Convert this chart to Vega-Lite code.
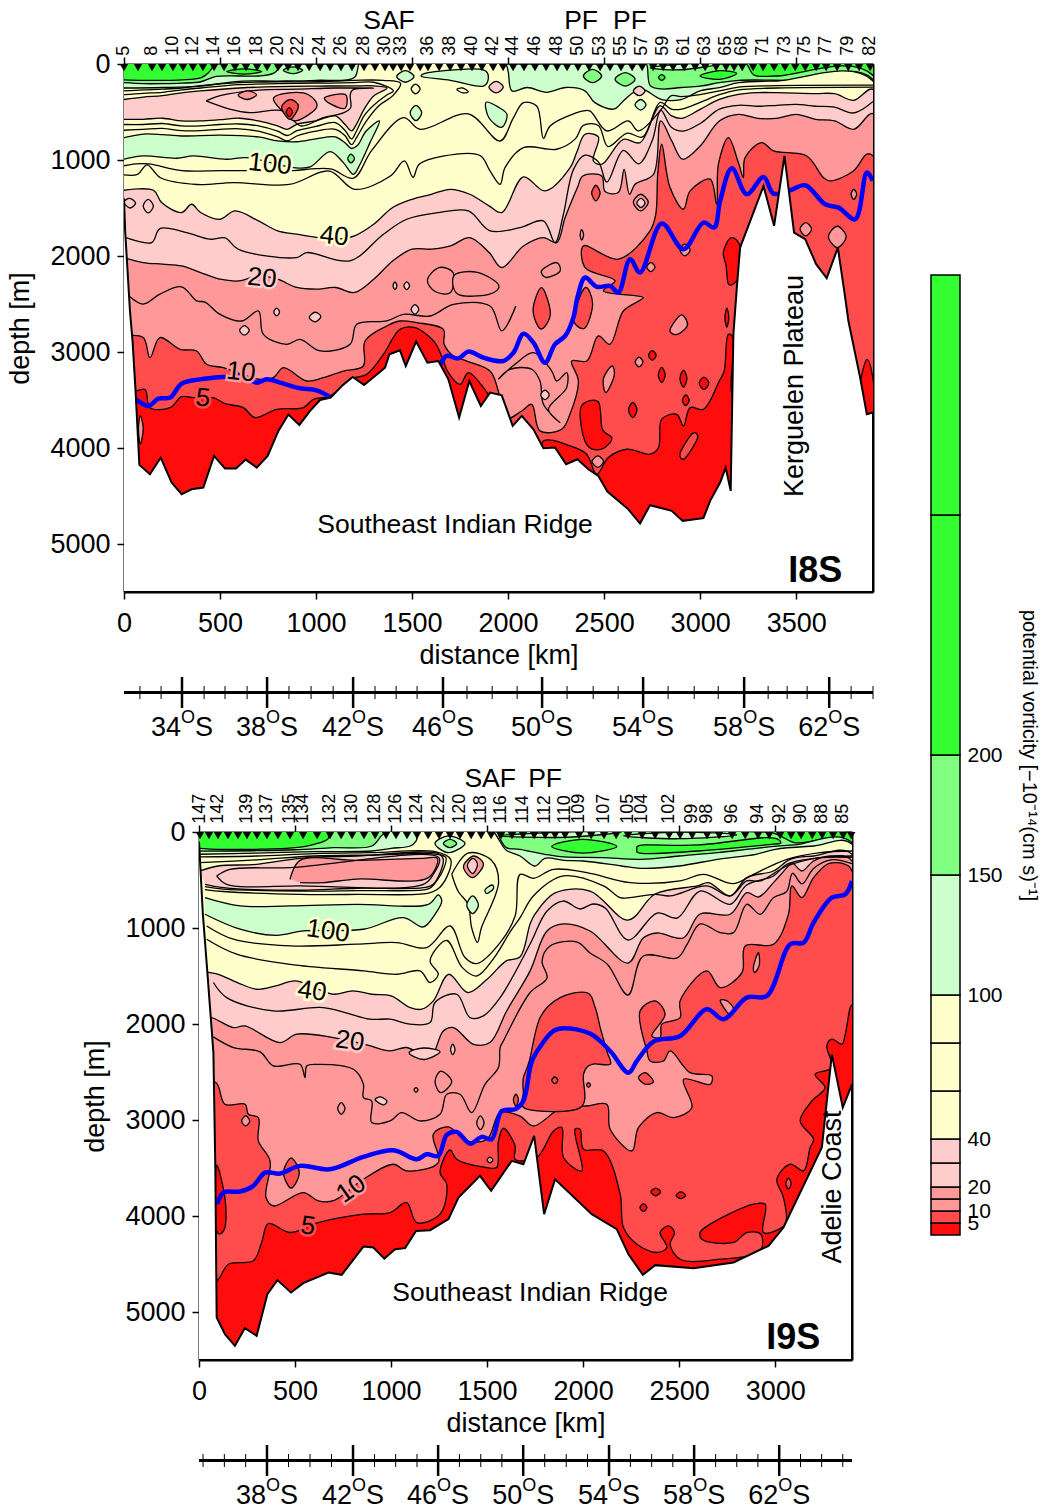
{"$schema":"https://vega.github.io/schema/vega-lite/v6.json","padding":{"left":6,"top":7,"right":0,"bottom":0},"background":"white","bounds":"flush","spacing":0,
"config":{"view":{"stroke":null},"font":"Liberation Sans","text":{"font":"Liberation Sans"},"axis":{"grid":false,"labelFontSize":27,"titleFontSize":27,"labelFlush":false,"labelOverlap":false,"labelColor":"black","titleColor":"black","tickColor":"black","domainColor":"black","tickWidth":1.5,"domainWidth":2,"labelFont":"Liberation Sans","titleFont":"Liberation Sans","titleFontWeight":"normal","zindex":1}},
"datasets":{
"m1":[{"i":"h0","x":0,"z":0},{"i":"h0","x":3900,"z":0},{"i":"h0","x":3900,"z":5500},{"i":"h0","x":0,"z":5500},
{"i":"g1","x":0,"z":165},{"i":"g1","x":100,"z":170},{"i":"g1","x":200,"z":170},{"i":"g1","x":300,"z":165},{"i":"g1","x":400,"z":145},{"i":"g1","x":440,"z":90},{"i":"g1","x":470,"z":15},{"i":"g1","x":490,"z":0},{"i":"g1","x":3200,"z":0},{"i":"g1","x":3240,"z":0},{"i":"g1","x":3280,"z":115},{"i":"g1","x":3400,"z":125},{"i":"g1","x":3900,"z":120},{"i":"g1","x":3900,"z":5500},{"i":"g1","x":0,"z":5500},
{"i":"f1","x":0,"z":195},{"i":"f1","x":100,"z":205},{"i":"f1","x":200,"z":205},{"i":"f1","x":300,"z":200},{"i":"f1","x":400,"z":185},{"i":"f1","x":480,"z":130},{"i":"f1","x":600,"z":125},{"i":"f1","x":700,"z":125},{"i":"f1","x":780,"z":95},{"i":"f1","x":830,"z":0},{"i":"f1","x":850,"z":0},{"i":"f1","x":2700,"z":0},{"i":"f1","x":2720,"z":0},{"i":"f1","x":2740,"z":225},{"i":"f1","x":2800,"z":260},{"i":"f1","x":2900,"z":245},{"i":"f1","x":3000,"z":230},{"i":"f1","x":3100,"z":195},{"i":"f1","x":3200,"z":170},{"i":"f1","x":3500,"z":170},{"i":"f1","x":3900,"z":160},{"i":"f1","x":3900,"z":5500},{"i":"f1","x":0,"z":5500},
{"i":"e1","x":0,"z":250},{"i":"e1","x":200,"z":245},{"i":"e1","x":400,"z":230},{"i":"e1","x":600,"z":180},{"i":"e1","x":800,"z":178},{"i":"e1","x":1000,"z":170},{"i":"e1","x":1200,"z":140},{"i":"e1","x":1225,"z":0},{"i":"e1","x":1250,"z":0},{"i":"e1","x":1985,"z":0},{"i":"e1","x":2000,"z":75},{"i":"e1","x":2020,"z":280},{"i":"e1","x":2100,"z":245},{"i":"e1","x":2200,"z":295},{"i":"e1","x":2300,"z":245},{"i":"e1","x":2400,"z":280},{"i":"e1","x":2450,"z":400},{"i":"e1","x":2550,"z":470},{"i":"e1","x":2600,"z":385},{"i":"e1","x":2650,"z":300},{"i":"e1","x":2700,"z":265},{"i":"e1","x":2800,"z":370},{"i":"e1","x":2900,"z":370},{"i":"e1","x":3000,"z":280},{"i":"e1","x":3100,"z":245},{"i":"e1","x":3200,"z":195},{"i":"e1","x":3400,"z":177},{"i":"e1","x":3900,"z":177},{"i":"e1","x":3900,"z":5500},{"i":"e1","x":0,"z":5500},
{"i":"d1","x":0,"z":1315},{"i":"d1","x":153,"z":1315},{"i":"d1","x":196,"z":1443},{"i":"d1","x":300,"z":1547},{"i":"d1","x":352,"z":1461},{"i":"d1","x":399,"z":1547},{"i":"d1","x":500,"z":1617},{"i":"d1","x":578,"z":1530},{"i":"d1","x":700,"z":1634},{"i":"d1","x":800,"z":1738},{"i":"d1","x":899,"z":1773},{"i":"d1","x":1101,"z":1825},{"i":"d1","x":1200,"z":1790},{"i":"d1","x":1300,"z":1669},{"i":"d1","x":1399,"z":1495},{"i":"d1","x":1500,"z":1409},{"i":"d1","x":1600,"z":1357},{"i":"d1","x":1700,"z":1305},{"i":"d1","x":1800,"z":1357},{"i":"d1","x":1901,"z":1478},{"i":"d1","x":1967,"z":1548},{"i":"d1","x":2080,"z":1176},{"i":"d1","x":2192,"z":1322},{"i":"d1","x":2323,"z":1079},{"i":"d1","x":2357,"z":923},{"i":"d1","x":2401,"z":732},{"i":"d1","x":2470,"z":760},{"i":"d1","x":2444,"z":1010},{"i":"d1","x":2488,"z":1044},{"i":"d1","x":2600,"z":784},{"i":"d1","x":2687,"z":819},{"i":"d1","x":2791,"z":437},{"i":"d1","x":2852,"z":541},{"i":"d1","x":2904,"z":566},{"i":"d1","x":3000,"z":472},{"i":"d1","x":3100,"z":368},{"i":"d1","x":3199,"z":316},{"i":"d1","x":3300,"z":298},{"i":"d1","x":3399,"z":298},{"i":"d1","x":3600,"z":309},{"i":"d1","x":3700,"z":309},{"i":"d1","x":3800,"z":378},{"i":"d1","x":3900,"z":264},{"i":"d1","x":3900,"z":5500},{"i":"d1","x":0,"z":5500},
{"i":"c1","x":0,"z":2020},{"i":"c1","x":100,"z":2068},{"i":"c1","x":200,"z":2085},{"i":"c1","x":300,"z":2103},{"i":"c1","x":399,"z":2172},{"i":"c1","x":500,"z":2242},{"i":"c1","x":600,"z":2259},{"i":"c1","x":700,"z":2207},{"i":"c1","x":800,"z":2242},{"i":"c1","x":899,"z":2328},{"i":"c1","x":1000,"z":2346},{"i":"c1","x":1101,"z":2328},{"i":"c1","x":1200,"z":2380},{"i":"c1","x":1300,"z":2242},{"i":"c1","x":1399,"z":2051},{"i":"c1","x":1500,"z":1929},{"i":"c1","x":1600,"z":1929},{"i":"c1","x":1700,"z":1895},{"i":"c1","x":1800,"z":1808},{"i":"c1","x":1901,"z":1964},{"i":"c1","x":1967,"z":2120},{"i":"c1","x":2080,"z":1895},{"i":"c1","x":2184,"z":1808},{"i":"c1","x":2253,"z":1860},{"i":"c1","x":2297,"z":1600},{"i":"c1","x":2361,"z":1287},{"i":"c1","x":2389,"z":1166},{"i":"c1","x":2487,"z":1166},{"i":"c1","x":2505,"z":1329},{"i":"c1","x":2574,"z":1339},{"i":"c1","x":2604,"z":1097},{"i":"c1","x":2632,"z":1357},{"i":"c1","x":2661,"z":1253},{"i":"c1","x":2757,"z":1149},{"i":"c1","x":2795,"z":593},{"i":"c1","x":2852,"z":801},{"i":"c1","x":2909,"z":992},{"i":"c1","x":3000,"z":854},{"i":"c1","x":3100,"z":593},{"i":"c1","x":3199,"z":524},{"i":"c1","x":3300,"z":566},{"i":"c1","x":3399,"z":566},{"i":"c1","x":3500,"z":524},{"i":"c1","x":3600,"z":576},{"i":"c1","x":3700,"z":593},{"i":"c1","x":3800,"z":680},{"i":"c1","x":3900,"z":517},{"i":"c1","x":3900,"z":5500},{"i":"c1","x":0,"z":5500},
{"i":"b1","x":0,"z":2833},{"i":"b1","x":100,"z":2850},{"i":"b1","x":135,"z":3059},{"i":"b1","x":187,"z":2850},{"i":"b1","x":292,"z":2972},{"i":"b1","x":378,"z":2990},{"i":"b1","x":430,"z":3128},{"i":"b1","x":517,"z":3163},{"i":"b1","x":700,"z":3284},{"i":"b1","x":778,"z":3267},{"i":"b1","x":830,"z":3163},{"i":"b1","x":951,"z":3302},{"i":"b1","x":1038,"z":3267},{"i":"b1","x":1142,"z":3198},{"i":"b1","x":1246,"z":3146},{"i":"b1","x":1255,"z":2885},{"i":"b1","x":1368,"z":2729},{"i":"b1","x":1437,"z":2677},{"i":"b1","x":1524,"z":2694},{"i":"b1","x":1663,"z":2764},{"i":"b1","x":1667,"z":2920},{"i":"b1","x":1715,"z":3041},{"i":"b1","x":1785,"z":3094},{"i":"b1","x":1906,"z":3198},{"i":"b1","x":1949,"z":3406},{"i":"b1","x":1984,"z":3700},{"i":"b1","x":2071,"z":3615},{"i":"b1","x":2123,"z":3545},{"i":"b1","x":2166,"z":3822},{"i":"b1","x":2279,"z":3805},{"i":"b1","x":2322,"z":3649},{"i":"b1","x":2366,"z":3302},{"i":"b1","x":2331,"z":3094},{"i":"b1","x":2410,"z":3094},{"i":"b1","x":2470,"z":2833},{"i":"b1","x":2530,"z":2920},{"i":"b1","x":2600,"z":2573},{"i":"b1","x":2680,"z":2469},{"i":"b1","x":2704,"z":2432},{"i":"b1","x":2496,"z":2363},{"i":"b1","x":2557,"z":2259},{"i":"b1","x":2401,"z":2120},{"i":"b1","x":2392,"z":1895},{"i":"b1","x":2574,"z":2033},{"i":"b1","x":2739,"z":1739},{"i":"b1","x":2769,"z":1565},{"i":"b1","x":2779,"z":1149},{"i":"b1","x":2800,"z":836},{"i":"b1","x":2843,"z":1287},{"i":"b1","x":2913,"z":1513},{"i":"b1","x":2948,"z":1322},{"i":"b1","x":3052,"z":1200},{"i":"b1","x":3086,"z":1461},{"i":"b1","x":3095,"z":1044},{"i":"b1","x":3147,"z":767},{"i":"b1","x":3199,"z":1027},{"i":"b1","x":3225,"z":1183},{"i":"b1","x":3234,"z":975},{"i":"b1","x":3320,"z":819},{"i":"b1","x":3382,"z":905},{"i":"b1","x":3555,"z":958},{"i":"b1","x":3642,"z":1183},{"i":"b1","x":3677,"z":1218},{"i":"b1","x":3798,"z":1114},{"i":"b1","x":3868,"z":940},{"i":"b1","x":3900,"z":958},{"i":"b1","x":3900,"z":5500},{"i":"b1","x":0,"z":5500},
{"i":"a1","x":0,"z":3406},{"i":"a1","x":62,"z":3406},{"i":"a1","x":110,"z":3390},{"i":"a1","x":135,"z":3580},{"i":"a1","x":240,"z":3579},{"i":"a1","x":300,"z":3465},{"i":"a1","x":361,"z":3475},{"i":"a1","x":465,"z":3475},{"i":"a1","x":526,"z":3538},{"i":"a1","x":621,"z":3579},{"i":"a1","x":682,"z":3683},{"i":"a1","x":795,"z":3597},{"i":"a1","x":934,"z":3579},{"i":"a1","x":986,"z":3493},{"i":"a1","x":1073,"z":3458},{"i":"a1","x":1177,"z":3284},{"i":"a1","x":1264,"z":3232},{"i":"a1","x":1351,"z":3024},{"i":"a1","x":1437,"z":2764},{"i":"a1","x":1515,"z":2747},{"i":"a1","x":1619,"z":2902},{"i":"a1","x":1654,"z":3042},{"i":"a1","x":1689,"z":3215},{"i":"a1","x":1750,"z":3337},{"i":"a1","x":1793,"z":3215},{"i":"a1","x":1897,"z":3440},{"i":"a1","x":1950,"z":3600},{"i":"a1","x":2100,"z":4200},{"i":"a1","x":2160,"z":4200},{"i":"a1","x":2184,"z":3926},{"i":"a1","x":2322,"z":3978},{"i":"a1","x":2409,"z":4065},{"i":"a1","x":2461,"z":4273},{"i":"a1","x":2522,"z":4100},{"i":"a1","x":2618,"z":4013},{"i":"a1","x":2739,"z":4065},{"i":"a1","x":2783,"z":3996},{"i":"a1","x":2800,"z":3700},{"i":"a1","x":2878,"z":3649},{"i":"a1","x":2913,"z":3770},{"i":"a1","x":2948,"z":3579},{"i":"a1","x":3017,"z":3597},{"i":"a1","x":3100,"z":3300},{"i":"a1","x":3125,"z":3198},{"i":"a1","x":3147,"z":2816},{"i":"a1","x":3173,"z":2850},{"i":"a1","x":3180,"z":3500},{"i":"a1","x":3400,"z":3500},{"i":"a1","x":3800,"z":3500},{"i":"a1","x":3833,"z":3302},{"i":"a1","x":3868,"z":3076},{"i":"a1","x":3900,"z":3284},{"i":"a1","x":3900,"z":5500},{"i":"a1","x":0,"z":5500},
{"i":"d2","x":0,"z":370},{"i":"d2","x":100,"z":345},{"i":"d2","x":200,"z":330},{"i":"d2","x":300,"z":300},{"i":"d2","x":400,"z":280},{"i":"d2","x":600,"z":250},{"i":"d2","x":800,"z":235},{"i":"d2","x":1000,"z":230},{"i":"d2","x":1200,"z":228},{"i":"d2","x":1300,"z":228},{"i":"d2","x":1370,"z":250},{"i":"d2","x":1300,"z":333},{"i":"d2","x":1250,"z":472},{"i":"d2","x":1210,"z":628},{"i":"d2","x":1185,"z":697},{"i":"d2","x":1150,"z":628},{"i":"d2","x":1100,"z":541},{"i":"d2","x":1000,"z":593},{"i":"d2","x":900,"z":628},{"i":"d2","x":850,"z":680},{"i":"d2","x":800,"z":645},{"i":"d2","x":700,"z":593},{"i":"d2","x":600,"z":565},{"i":"d2","x":500,"z":580},{"i":"d2","x":400,"z":593},{"i":"d2","x":300,"z":593},{"i":"d2","x":200,"z":565},{"i":"d2","x":100,"z":576},{"i":"d2","x":0,"z":576},
{"i":"f2","x":0,"z":767},{"i":"f2","x":100,"z":730},{"i":"f2","x":200,"z":735},{"i":"f2","x":300,"z":750},{"i":"f2","x":500,"z":740},{"i":"f2","x":700,"z":760},{"i":"f2","x":800,"z":800},{"i":"f2","x":900,"z":810},{"i":"f2","x":1000,"z":780},{"i":"f2","x":1100,"z":760},{"i":"f2","x":1150,"z":820},{"i":"f2","x":1185,"z":880},{"i":"f2","x":1215,"z":850},{"i":"f2","x":1260,"z":700},{"i":"f2","x":1330,"z":593},{"i":"f2","x":1281,"z":819},{"i":"f2","x":1229,"z":1044},{"i":"f2","x":1195,"z":1149},{"i":"f2","x":1142,"z":1027},{"i":"f2","x":1073,"z":912},{"i":"f2","x":969,"z":1072},{"i":"f2","x":882,"z":1079},{"i":"f2","x":639,"z":975},{"i":"f2","x":535,"z":992},{"i":"f2","x":361,"z":958},{"i":"f2","x":274,"z":982},{"i":"f2","x":100,"z":958},{"i":"f2","x":0,"z":992},
{"i":"n1","x":427,"z":385},{"i":"n1","x":550,"z":470},{"i":"n1","x":655,"z":507},{"i":"n1","x":830,"z":490},{"i":"n1","x":920,"z":645},{"i":"n1","x":1038,"z":559},{"i":"n1","x":1142,"z":510},{"i":"n1","x":1180,"z":455},{"i":"n1","x":1178,"z":320},{"i":"n1","x":1190,"z":270},{"i":"n1","x":1300,"z":250},{"i":"n1","x":1100,"z":250},{"i":"n1","x":900,"z":262},{"i":"n1","x":700,"z":272},{"i":"n1","x":500,"z":330},{"i":"n1","x":427,"z":385},
{"i":"n2","x":0,"z":320},{"i":"n2","x":100,"z":305},{"i":"n2","x":200,"z":295},{"i":"n2","x":300,"z":270},{"i":"n2","x":400,"z":250},{"i":"n2","x":600,"z":215},{"i":"n2","x":800,"z":205},{"i":"n2","x":1000,"z":200},{"i":"n2","x":1200,"z":195},{"i":"n2","x":1300,"z":190},{"i":"n2","x":1403,"z":281},{"i":"n2","x":1370,"z":320},{"i":"n2","x":1300,"z":430},{"i":"n2","x":1250,"z":540},{"i":"n2","x":1210,"z":700},{"i":"n2","x":1185,"z":780},{"i":"n2","x":1150,"z":690},{"i":"n2","x":1100,"z":610},{"i":"n2","x":1000,"z":650},{"i":"n2","x":900,"z":695},{"i":"n2","x":850,"z":745},{"i":"n2","x":800,"z":700},{"i":"n2","x":700,"z":645},{"i":"n2","x":600,"z":625},{"i":"n2","x":500,"z":630},{"i":"n2","x":400,"z":645},{"i":"n2","x":300,"z":645},{"i":"n2","x":200,"z":620},{"i":"n2","x":100,"z":630},{"i":"n2","x":0,"z":630},
{"i":"n3","x":0,"z":280},{"i":"n3","x":100,"z":270},{"i":"n3","x":200,"z":262},{"i":"n3","x":300,"z":250},{"i":"n3","x":400,"z":225},{"i":"n3","x":600,"z":195},{"i":"n3","x":800,"z":185},{"i":"n3","x":1000,"z":185},{"i":"n3","x":1200,"z":170},{"i":"n3","x":1350,"z":170},{"i":"n3","x":1440,"z":200},{"i":"n3","x":1400,"z":330},{"i":"n3","x":1330,"z":430},{"i":"n3","x":1260,"z":600},{"i":"n3","x":1210,"z":770},{"i":"n3","x":1185,"z":840},{"i":"n3","x":1150,"z":745},{"i":"n3","x":1100,"z":680},{"i":"n3","x":1000,"z":700},{"i":"n3","x":900,"z":750},{"i":"n3","x":850,"z":800},{"i":"n3","x":800,"z":760},{"i":"n3","x":700,"z":700},{"i":"n3","x":600,"z":675},{"i":"n3","x":500,"z":680},{"i":"n3","x":400,"z":695},{"i":"n3","x":300,"z":695},{"i":"n3","x":200,"z":670},{"i":"n3","x":100,"z":680},{"i":"n3","x":0,"z":690},
{"i":"n4","x":0,"z":1060},{"i":"n4","x":60,"z":1040},{"i":"n4","x":130,"z":1040},{"i":"n4","x":300,"z":1110},{"i":"n4","x":500,"z":1110},{"i":"n4","x":650,"z":1110},{"i":"n4","x":880,"z":1110},{"i":"n4","x":1000,"z":1090},{"i":"n4","x":1082,"z":1096},{"i":"n4","x":1195,"z":1190},{"i":"n4","x":1290,"z":900},{"i":"n4","x":1455,"z":558},{"i":"n4","x":1542,"z":680},{"i":"n4","x":1793,"z":520},{"i":"n4","x":1958,"z":802},{"i":"n4","x":2028,"z":559},{"i":"n4","x":2080,"z":403},{"i":"n4","x":2149,"z":437},{"i":"n4","x":2184,"z":774},{"i":"n4","x":2219,"z":645},{"i":"n4","x":2392,"z":489},{"i":"n4","x":2427,"z":490},{"i":"n4","x":2514,"z":697},{"i":"n4","x":2626,"z":593},{"i":"n4","x":2678,"z":697},{"i":"n4","x":2791,"z":490},{"i":"n4","x":2850,"z":330},{"i":"n4","x":2900,"z":340},{"i":"n4","x":3000,"z":320},{"i":"n4","x":3100,"z":280},{"i":"n4","x":3200,"z":240},{"i":"n4","x":3400,"z":225},{"i":"n4","x":3900,"z":220},
{"i":"n5","x":0,"z":1155},{"i":"n5","x":70,"z":1150},{"i":"n5","x":120,"z":1050},{"i":"n5","x":190,"z":1185},{"i":"n5","x":380,"z":1255},{"i":"n5","x":570,"z":1235},{"i":"n5","x":860,"z":1255},{"i":"n5","x":1070,"z":1115},{"i":"n5","x":1200,"z":1305},{"i":"n5","x":1385,"z":1170},{"i":"n5","x":1460,"z":1010},{"i":"n5","x":1505,"z":1180},{"i":"n5","x":1540,"z":1040},{"i":"n5","x":1790,"z":930},{"i":"n5","x":1860,"z":960},{"i":"n5","x":1906,"z":1114},{"i":"n5","x":1958,"z":1253},{"i":"n5","x":1984,"z":1079},{"i":"n5","x":2080,"z":871},{"i":"n5","x":2253,"z":888},{"i":"n5","x":2350,"z":780},{"i":"n5","x":2392,"z":640},{"i":"n5","x":2470,"z":640},{"i":"n5","x":2520,"z":860},{"i":"n5","x":2620,"z":720},{"i":"n5","x":2700,"z":760},{"i":"n5","x":2791,"z":400},{"i":"n5","x":2850,"z":470},{"i":"n5","x":2904,"z":470},{"i":"n5","x":3000,"z":400},{"i":"n5","x":3100,"z":320},{"i":"n5","x":3200,"z":270},{"i":"n5","x":3400,"z":250},{"i":"n5","x":3900,"z":240},
{"i":"n7","x":0,"z":1800},{"i":"n7","x":144,"z":1860},{"i":"n7","x":187,"z":1714},{"i":"n7","x":326,"z":1757},{"i":"n7","x":448,"z":1825},{"i":"n7","x":527,"z":1811},{"i":"n7","x":595,"z":1930},{"i":"n7","x":899,"z":2016},{"i":"n7","x":951,"z":1964},{"i":"n7","x":1177,"z":2050},{"i":"n7","x":1351,"z":1773},{"i":"n7","x":1472,"z":1617},{"i":"n7","x":1637,"z":1548},{"i":"n7","x":1793,"z":1530},{"i":"n7","x":1906,"z":1738},{"i":"n7","x":2062,"z":1704},{"i":"n7","x":2184,"z":1634},{"i":"n7","x":2244,"z":1860},{"i":"n7","x":2288,"z":1565},{"i":"n7","x":2340,"z":1100},{"i":"n7","x":2400,"z":950},{"i":"n7","x":2470,"z":1020},{"i":"n7","x":2514,"z":1230},{"i":"n7","x":2600,"z":900},{"i":"n7","x":2680,"z":1040},{"i":"n7","x":2750,"z":800},{"i":"n7","x":2795,"z":480},{"i":"n7","x":2850,"z":660},{"i":"n7","x":2910,"z":700},{"i":"n7","x":3000,"z":620},{"i":"n7","x":3100,"z":470},{"i":"n7","x":3200,"z":430},{"i":"n7","x":3300,"z":440},{"i":"n7","x":3400,"z":430},{"i":"n7","x":3500,"z":420},{"i":"n7","x":3600,"z":440},{"i":"n7","x":3700,"z":450},{"i":"n7","x":3800,"z":510},{"i":"n7","x":3900,"z":390},
{"i":"n8","x":31,"z":2425},{"i":"n8","x":100,"z":2501},{"i":"n8","x":187,"z":2398},{"i":"n8","x":300,"z":2321},{"i":"n8","x":378,"z":2467},{"i":"n8","x":422,"z":2480},{"i":"n8","x":500,"z":2608},{"i":"n8","x":613,"z":2677},{"i":"n8","x":700,"z":2573},{"i":"n8","x":726,"z":2816},{"i":"n8","x":847,"z":2920},{"i":"n8","x":917,"z":2868},{"i":"n8","x":1021,"z":2989},{"i":"n8","x":1177,"z":2920},{"i":"n8","x":1212,"z":2712},{"i":"n8","x":1368,"z":2677},{"i":"n8","x":1455,"z":2608},{"i":"n8","x":1594,"z":2625},{"i":"n8","x":1715,"z":2504},{"i":"n8","x":1906,"z":2521},{"i":"n8","x":1967,"z":2780},{"i":"n8","x":2040,"z":2520},
{"i":"n9","x":1949,"z":3284},{"i":"n9","x":2010,"z":3180},{"i":"n9","x":2123,"z":3180},{"i":"n9","x":2166,"z":3302},{"i":"n9","x":2184,"z":3545},{"i":"n9","x":2270,"z":3735},{"i":"n9","x":2210,"z":3597},{"i":"n9","x":2305,"z":3371},{"i":"n9","x":2305,"z":3215},{"i":"n9","x":2253,"z":3302},{"i":"n9","x":2227,"z":3198},{"i":"n9","x":2132,"z":3007},{"i":"n9","x":2036,"z":3128},{"i":"n9","x":1949,"z":3284}],
"s1":[{"i":"h1","x":535,"z":78},{"i":"h1","x":626,"z":50},{"i":"h1","x":717,"z":78},{"i":"h1","x":626,"z":105},
{"i":"g2","x":830,"z":65},{"i":"g2","x":880,"z":30},{"i":"g2","x":930,"z":65},{"i":"g2","x":880,"z":100},
{"i":"f3","x":1420,"z":130},{"i":"f3","x":1465,"z":70},{"i":"f3","x":1510,"z":130},{"i":"f3","x":1465,"z":190},
{"i":"f4","x":1550,"z":130},{"i":"f4","x":1620,"z":80},{"i":"f4","x":1871,"z":60},{"i":"f4","x":1871,"z":230},{"i":"f4","x":1700,"z":170},
{"i":"e2","x":1495,"z":260},{"i":"e2","x":1518,"z":210},{"i":"e2","x":1542,"z":260},{"i":"e2","x":1518,"z":310},
{"i":"f5","x":1490,"z":510},{"i":"f5","x":1520,"z":430},{"i":"f5","x":1550,"z":510},{"i":"f5","x":1520,"z":590},
{"i":"e3","x":1733,"z":265},{"i":"e3","x":1763,"z":250},{"i":"e3","x":1793,"z":290},{"i":"e3","x":1763,"z":300},
{"i":"f6","x":1885,"z":400},{"i":"f6","x":1950,"z":450},{"i":"f6","x":1995,"z":530},{"i":"f6","x":1965,"z":660},{"i":"f6","x":1900,"z":560},
{"i":"d3","x":1900,"z":240},{"i":"d3","x":1938,"z":180},{"i":"d3","x":1975,"z":240},{"i":"d3","x":1938,"z":300},
{"i":"g3","x":1165,"z":985},{"i":"g3","x":1182,"z":940},{"i":"g3","x":1200,"z":985},{"i":"g3","x":1182,"z":1030},
{"i":"d4","x":0,"z":1440},{"i":"d4","x":30,"z":1400},{"i":"d4","x":60,"z":1450},{"i":"d4","x":30,"z":1500},
{"i":"d5","x":100,"z":1480},{"i":"d5","x":126,"z":1410},{"i":"d5","x":153,"z":1480},{"i":"d5","x":126,"z":1550},
{"i":"c2","x":595,"z":325},{"i":"c2","x":642,"z":280},{"i":"c2","x":690,"z":320},{"i":"c2","x":642,"z":370},
{"i":"c3","x":778,"z":360},{"i":"c3","x":860,"z":300},{"i":"c3","x":960,"z":320},{"i":"c3","x":1003,"z":450},{"i":"c3","x":900,"z":590},{"i":"c3","x":840,"z":520},
{"i":"c4","x":1046,"z":350},{"i":"c4","x":1151,"z":316},{"i":"c4","x":1151,"z":460},{"i":"c4","x":1080,"z":420},
{"i":"b2","x":821,"z":450},{"i":"b2","x":865,"z":370},{"i":"b2","x":908,"z":440},{"i":"b2","x":865,"z":576},
{"i":"a2","x":844,"z":500},{"i":"a2","x":860,"z":455},{"i":"a2","x":877,"z":500},{"i":"a2","x":860,"z":550},
{"i":"d6","x":1401,"z":2310},{"i":"d6","x":1411,"z":2270},{"i":"d6","x":1421,"z":2310},{"i":"d6","x":1411,"z":2350},
{"i":"d7","x":1457,"z":2310},{"i":"d7","x":1472,"z":2270},{"i":"d7","x":1487,"z":2310},{"i":"d7","x":1472,"z":2350},
{"i":"c5","x":1580,"z":2250},{"i":"c5","x":1640,"z":2120},{"i":"c5","x":1715,"z":2180},{"i":"c5","x":1700,"z":2380},{"i":"c5","x":1620,"z":2370},
{"i":"c6","x":1720,"z":2200},{"i":"c6","x":1840,"z":2170},{"i":"c6","x":1950,"z":2300},{"i":"c6","x":1900,"z":2400},{"i":"c6","x":1740,"z":2400},
{"i":"d8","x":602,"z":2775},{"i":"d8","x":627,"z":2725},{"i":"d8","x":652,"z":2775},{"i":"d8","x":627,"z":2825},
{"i":"d9","x":780,"z":2583},{"i":"d9","x":795,"z":2543},{"i":"d9","x":810,"z":2583},{"i":"d9","x":795,"z":2623},
{"i":"d10","x":965,"z":2640},{"i":"d10","x":995,"z":2586},{"i":"d10","x":1025,"z":2630},{"i":"d10","x":995,"z":2686},
{"i":"d11","x":1495,"z":2556},{"i":"d11","x":1515,"z":2506},{"i":"d11","x":1535,"z":2556},{"i":"d11","x":1515,"z":2606},
{"i":"c7","x":75,"z":3800},{"i":"c7","x":85,"z":3666},{"i":"c7","x":100,"z":3800},{"i":"c7","x":85,"z":3960},
{"i":"g4","x":2392,"z":125},{"i":"g4","x":2440,"z":55},{"i":"g4","x":2487,"z":125},{"i":"g4","x":2440,"z":195},
{"i":"g5","x":2557,"z":160},{"i":"g5","x":2610,"z":90},{"i":"g5","x":2661,"z":160},{"i":"g5","x":2610,"z":230},
{"i":"h2","x":2783,"z":140},{"i":"h2","x":2800,"z":110},{"i":"h2","x":2817,"z":140},{"i":"h2","x":2800,"z":170},
{"i":"d12","x":2652,"z":280},{"i":"d12","x":2683,"z":230},{"i":"d12","x":2713,"z":280},{"i":"d12","x":2683,"z":330},
{"i":"f7","x":2661,"z":425},{"i":"f7","x":2690,"z":370},{"i":"f7","x":2718,"z":425},{"i":"f7","x":2690,"z":480},
{"i":"h3","x":3000,"z":125},{"i":"h3","x":3100,"z":70},{"i":"h3","x":3190,"z":100},{"i":"h3","x":3100,"z":160},
{"i":"f8","x":2740,"z":40},{"i":"f8","x":2900,"z":0},{"i":"f8","x":3100,"z":0},{"i":"f8","x":2900,"z":60},
{"i":"b3","x":2435,"z":1345},{"i":"b3","x":2457,"z":1263},{"i":"b3","x":2479,"z":1345},{"i":"b3","x":2457,"z":1426},
{"i":"c8","x":2652,"z":1440},{"i":"c8","x":2690,"z":1357},{"i":"c8","x":2730,"z":1440},{"i":"c8","x":2690,"z":1530},
{"i":"d13","x":2670,"z":1447},{"i":"d13","x":2692,"z":1400},{"i":"d13","x":2713,"z":1447},{"i":"d13","x":2692,"z":1495},
{"i":"c9","x":2375,"z":1780},{"i":"c9","x":2383,"z":1725},{"i":"c9","x":2393,"z":1780},{"i":"c9","x":2383,"z":1835},
{"i":"c10","x":2175,"z":2150},{"i":"c10","x":2250,"z":2068},{"i":"c10","x":2270,"z":2160},{"i":"c10","x":2200,"z":2224},
{"i":"c11","x":2722,"z":2115},{"i":"c11","x":2743,"z":2068},{"i":"c11","x":2765,"z":2115},{"i":"c11","x":2743,"z":2162},
{"i":"c12","x":2895,"z":1938},{"i":"c12","x":2920,"z":1877},{"i":"c12","x":2948,"z":1938},{"i":"c12","x":2920,"z":1999},
{"i":"a3","x":3121,"z":1960},{"i":"a3","x":3160,"z":1810},{"i":"a3","x":3208,"z":1900},{"i":"a3","x":3208,"z":2200},{"i":"a3","x":3150,"z":2300},{"i":"a3","x":3135,"z":2100},
{"i":"c13","x":3520,"z":1720},{"i":"c13","x":3550,"z":1652},{"i":"c13","x":3580,"z":1720},{"i":"c13","x":3550,"z":1790},
{"i":"c14","x":3668,"z":1800},{"i":"c14","x":3714,"z":1690},{"i":"c14","x":3760,"z":1800},{"i":"c14","x":3714,"z":1912},
{"i":"c15","x":3786,"z":1357},{"i":"c15","x":3800,"z":1305},{"i":"c15","x":3815,"z":1357},{"i":"c15","x":3800,"z":1409},
{"i":"b4","x":2130,"z":2560},{"i":"b4","x":2175,"z":2330},{"i":"b4","x":2220,"z":2600},{"i":"b4","x":2170,"z":2760},
{"i":"b5","x":2340,"z":2650},{"i":"b5","x":2400,"z":2330},{"i":"b5","x":2440,"z":2500},{"i":"b5","x":2400,"z":2750},
{"i":"a4","x":2383,"z":3560},{"i":"a4","x":2470,"z":3520},{"i":"a4","x":2490,"z":3800},{"i":"a4","x":2540,"z":3900},{"i":"a4","x":2490,"z":4010},{"i":"a4","x":2420,"z":3990},{"i":"a4","x":2383,"z":3800},
{"i":"c16","x":2496,"z":3280},{"i":"c16","x":2540,"z":3146},{"i":"c16","x":2552,"z":3250},{"i":"c16","x":2510,"z":3423},
{"i":"c17","x":2843,"z":2770},{"i":"c17","x":2900,"z":2615},{"i":"c17","x":2934,"z":2720},{"i":"c17","x":2880,"z":2816},
{"i":"a5","x":2731,"z":3035},{"i":"a5","x":2751,"z":2985},{"i":"a5","x":2771,"z":3035},{"i":"a5","x":2751,"z":3085},
{"i":"a6","x":2782,"z":3240},{"i":"a6","x":2800,"z":3160},{"i":"a6","x":2818,"z":3240},{"i":"a6","x":2800,"z":3320},
{"i":"a7","x":2895,"z":3278},{"i":"a7","x":2913,"z":3188},{"i":"a7","x":2931,"z":3278},{"i":"a7","x":2913,"z":3368},
{"i":"a8","x":2995,"z":3326},{"i":"a8","x":3020,"z":3261},{"i":"a8","x":3045,"z":3326},{"i":"a8","x":3020,"z":3391},
{"i":"a9","x":2907,"z":3503},{"i":"a9","x":2925,"z":3448},{"i":"a9","x":2943,"z":3503},{"i":"a9","x":2925,"z":3558},
{"i":"a10","x":2627,"z":3604},{"i":"a10","x":2649,"z":3524},{"i":"a10","x":2671,"z":3604},{"i":"a10","x":2649,"z":3684},
{"i":"a11","x":3129,"z":2642},{"i":"a11","x":3139,"z":2542},{"i":"a11","x":3149,"z":2642},{"i":"a11","x":3139,"z":2742},
{"i":"c18","x":2662,"z":3104},{"i":"c18","x":2682,"z":3054},{"i":"c18","x":2702,"z":3104},{"i":"c18","x":2682,"z":3154},
{"i":"b6","x":2896,"z":4050},{"i":"b6","x":2960,"z":3850},{"i":"b6","x":2986,"z":3900},{"i":"b6","x":2920,"z":4110},
{"i":"c19","x":2437,"z":4141},{"i":"c19","x":2467,"z":4081},{"i":"c19","x":2497,"z":4141},{"i":"c19","x":2467,"z":4201},
{"i":"d14","x":2170,"z":3447},{"i":"d14","x":2192,"z":3397},{"i":"d14","x":2214,"z":3447},{"i":"d14","x":2192,"z":3497}],
"k1":[{"x":0,"z":1400},{"x":6,"z":1740},{"x":31,"z":2570},{"x":45,"z":2900},{"x":60,"z":3400},{"x":80,"z":4176},{"x":135,"z":4273},{"x":191,"z":4100},{"x":248,"z":4360},{"x":300,"z":4482},{"x":352,"z":4430},{"x":413,"z":4412},{"x":469,"z":4082},{"x":526,"z":4214},{"x":583,"z":4214},{"x":634,"z":4121},{"x":691,"z":4204},{"x":748,"z":4082},{"x":804,"z":3822},{"x":856,"z":3652},{"x":913,"z":3760},{"x":969,"z":3614},{"x":1021,"z":3500},{"x":1076,"z":3475},{"x":1134,"z":3354},{"x":1191,"z":3260},{"x":1250,"z":3343},{"x":1307,"z":3250},{"x":1359,"z":3163},{"x":1382,"z":3024},{"x":1437,"z":2983},{"x":1467,"z":3146},{"x":1521,"z":2892},{"x":1580,"z":3111},{"x":1637,"z":3094},{"x":1689,"z":3284},{"x":1745,"z":3683},{"x":1798,"z":3302},{"x":1858,"z":3562},{"x":1906,"z":3423},{"x":1967,"z":3451},{"x":2024,"z":3770},{"x":2071,"z":3666},{"x":2132,"z":3805},{"x":2184,"z":4003},{"x":2245,"z":3996},{"x":2302,"z":4169},{"x":2361,"z":4117},{"x":2418,"z":4221},{"x":2470,"z":4291},{"x":2517,"z":4454},{"x":2626,"z":4638},{"x":2687,"z":4787},{"x":2739,"z":4596},{"x":2852,"z":4655},{"x":2909,"z":4759},{"x":3017,"z":4731},{"x":3052,"z":4551},{"x":3104,"z":4360},{"x":3133,"z":4204},{"x":3159,"z":4447},{"x":3173,"z":2816},{"x":3191,"z":2328},{"x":3208,"z":1912},{"x":3330,"z":1270},{"x":3385,"z":1686},{"x":3439,"z":958},{"x":3489,"z":1756},{"x":3547,"z":1825},{"x":3604,"z":2085},{"x":3659,"z":2231},{"x":3717,"z":1912},{"x":3755,"z":2432},{"x":3772,"z":2677},{"x":3833,"z":3267},{"x":3868,"z":3649},{"x":3900,"z":3631},{"x":3900,"z":5500},{"x":0,"z":5500}],
"u1":[{"s":1,"x":62,"z":3493},{"s":1,"x":127,"z":3562},{"s":1,"x":179,"z":3486},{"s":1,"x":240,"z":3475},{"s":1,"x":300,"z":3330},{"s":1,"x":396,"z":3285},{"s":1,"x":517,"z":3260},{"s":1,"x":621,"z":3250},{"s":1,"x":691,"z":3319},{"s":1,"x":743,"z":3285},{"s":1,"x":812,"z":3319},{"s":1,"x":917,"z":3378},{"s":1,"x":1003,"z":3399},{"s":1,"x":1073,"z":3468},
{"s":2,"x":1649,"z":3128},{"s":2,"x":1680,"z":3041},{"s":2,"x":1741,"z":3066},{"s":2,"x":1793,"z":2996},{"s":2,"x":1871,"z":3059},{"s":2,"x":1975,"z":3094},{"s":2,"x":2028,"z":3007},{"s":2,"x":2080,"z":2809},{"s":2,"x":2132,"z":2903},{"s":2,"x":2192,"z":3111},{"s":2,"x":2244,"z":2920},{"s":2,"x":2297,"z":2833},{"s":2,"x":2340,"z":2642},{"s":2,"x":2361,"z":2432},{"s":2,"x":2401,"z":2224},{"s":2,"x":2462,"z":2321},{"s":2,"x":2531,"z":2311},{"s":2,"x":2574,"z":2380},{"s":2,"x":2635,"z":2033},{"s":2,"x":2687,"z":2172},{"s":2,"x":2800,"z":1662},{"s":2,"x":2913,"z":1929},{"s":2,"x":3017,"z":1652},{"s":2,"x":3073,"z":1704},{"s":2,"x":3104,"z":1426},{"s":2,"x":3165,"z":1086},{"s":2,"x":3243,"z":1357},{"s":2,"x":3330,"z":1176},{"s":2,"x":3382,"z":1350},{"s":2,"x":3469,"z":1315},{"s":2,"x":3547,"z":1263},{"s":2,"x":3651,"z":1461},{"s":2,"x":3721,"z":1496},{"s":2,"x":3807,"z":1617},{"s":2,"x":3868,"z":1131},{"s":2,"x":3899,"z":1218}],
"v1":[{"x":0,"l":"5"},{"x":73},{"x":146,"l":"8"},{"x":198},{"x":255,"l":"10"},{"x":307},{"x":359,"l":"12"},{"x":411},{"x":469,"l":"14"},{"x":521},{"x":578,"l":"16"},{"x":635},{"x":693,"l":"18"},{"x":745},{"x":802,"l":"20"},{"x":854},{"x":906,"l":"22"},{"x":964},{"x":1021,"l":"24"},{"x":1073},{"x":1130,"l":"26"},{"x":1187},{"x":1250,"l":"28"},{"x":1307},{"x":1359,"l":"30"},{"x":1401},{"x":1443,"l":"33"},{"x":1489},{"x":1542},{"x":1583,"l":"36"},{"x":1641},{"x":1698,"l":"38"},{"x":1755},{"x":1812,"l":"40"},{"x":1864},{"x":1922,"l":"42"},{"x":1974},{"x":2026,"l":"44"},{"x":2083},{"x":2140,"l":"46"},{"x":2198},{"x":2255,"l":"48"},{"x":2307},{"x":2364,"l":"50"},{"x":2422},{"x":2479,"l":"53"},{"x":2531},{"x":2588,"l":"55"},{"x":2646},{"x":2698,"l":"57"},{"x":2755},{"x":2807,"l":"59"},{"x":2859},{"x":2917,"l":"61"},{"x":2974},{"x":3026,"l":"63"},{"x":3083},{"x":3135,"l":"65"},{"x":3177},{"x":3219,"l":"68"},{"x":3276},{"x":3328,"l":"71"},{"x":3385},{"x":3442,"l":"73"},{"x":3495},{"x":3547,"l":"75"},{"x":3604},{"x":3656,"l":"77"},{"x":3713},{"x":3771,"l":"79"},{"x":3828},{"x":3885,"l":"82"}],
"t1":[{"t":"SAF","x":1380,"z":-448},{"t":"PF","x":2380,"z":-448},{"t":"PF","x":2635,"z":-448},{"t":"Southeast Indian Ridge","x":1724,"z":4802}],
"w1":[{"t":"100","b":"e","x":760,"z":1042},{"t":"40","b":"e","x":1094,"z":1792},{"t":"20","b":"d","x":719,"z":2229},{"t":"10","b":"c","x":609,"z":3208},{"t":"5","b":"b","x":411,"z":3479}],
"l1":[{"x":83},{"x":193},{"x":302,"l":"34"},{"x":417},{"x":526},{"x":641},{"x":745,"l":"38"},{"x":859},{"x":974},{"x":1089},{"x":1193,"l":"42"},{"x":1307},{"x":1417},{"x":1526},{"x":1661,"l":"46"},{"x":1786},{"x":1917},{"x":2047},{"x":2177,"l":"50"},{"x":2307},{"x":2443},{"x":2573},{"x":2703,"l":"54"},{"x":2833},{"x":2969},{"x":3094},{"x":3229,"l":"58"},{"x":3354},{"x":3453},{"x":3557},{"x":3672,"l":"62"},{"x":3786},{"x":3900}],
"m2":[{"i":"h0","x":0,"z":0},{"i":"h0","x":3400,"z":0},{"i":"h0","x":3400,"z":5500},{"i":"h0","x":0,"z":5500},
{"i":"g1","x":0,"z":170},{"i":"g1","x":100,"z":180},{"i":"g1","x":300,"z":180},{"i":"g1","x":500,"z":163},{"i":"g1","x":600,"z":128},{"i":"g1","x":670,"z":76},{"i":"g1","x":690,"z":0},{"i":"g1","x":2950,"z":0},{"i":"g1","x":2974,"z":0},{"i":"g1","x":3026,"z":40},{"i":"g1","x":3100,"z":111},{"i":"g1","x":3400,"z":128},{"i":"g1","x":3400,"z":5500},{"i":"g1","x":0,"z":5500},
{"i":"f1","x":0,"z":200},{"i":"f1","x":300,"z":195},{"i":"f1","x":500,"z":185},{"i":"f1","x":700,"z":163},{"i":"f1","x":900,"z":146},{"i":"f1","x":950,"z":40},{"i":"f1","x":980,"z":0},{"i":"f1","x":1530,"z":0},{"i":"f1","x":1550,"z":0},{"i":"f1","x":1570,"z":80},{"i":"f1","x":1600,"z":163},{"i":"f1","x":1672,"z":180},{"i":"f1","x":1800,"z":232},{"i":"f1","x":1900,"z":260},{"i":"f1","x":2100,"z":267},{"i":"f1","x":2300,"z":285},{"i":"f1","x":2500,"z":250},{"i":"f1","x":2700,"z":215},{"i":"f1","x":2900,"z":170},{"i":"f1","x":3100,"z":135},{"i":"f1","x":3400,"z":111},{"i":"f1","x":3400,"z":5500},{"i":"f1","x":0,"z":5500},
{"i":"e1","x":0,"z":232},{"i":"e1","x":300,"z":220},{"i":"e1","x":600,"z":205},{"i":"e1","x":900,"z":198},{"i":"e1","x":1000,"z":170},{"i":"e1","x":1100,"z":146},{"i":"e1","x":1130,"z":94},{"i":"e1","x":1150,"z":0},{"i":"e1","x":1530,"z":0},{"i":"e1","x":1560,"z":76},{"i":"e1","x":1600,"z":190},{"i":"e1","x":1672,"z":250},{"i":"e1","x":1750,"z":354},{"i":"e1","x":1800,"z":274},{"i":"e1","x":1900,"z":295},{"i":"e1","x":2000,"z":302},{"i":"e1","x":2200,"z":354},{"i":"e1","x":2300,"z":378},{"i":"e1","x":2500,"z":354},{"i":"e1","x":2700,"z":285},{"i":"e1","x":2900,"z":232},{"i":"e1","x":3000,"z":180},{"i":"e1","x":3200,"z":146},{"i":"e1","x":3400,"z":128},{"i":"e1","x":3400,"z":5500},{"i":"e1","x":0,"z":5500},
{"i":"d1","x":0,"z":1440},{"i":"d1","x":57,"z":1464},{"i":"d1","x":100,"z":1482},{"i":"d1","x":200,"z":1568},{"i":"d1","x":300,"z":1638},{"i":"d1","x":400,"z":1603},{"i":"d1","x":500,"z":1551},{"i":"d1","x":600,"z":1620},{"i":"d1","x":700,"z":1690},{"i":"d1","x":800,"z":1655},{"i":"d1","x":900,"z":1690},{"i":"d1","x":1000,"z":1707},{"i":"d1","x":1100,"z":1829},{"i":"d1","x":1160,"z":1846},{"i":"d1","x":1220,"z":1759},{"i":"d1","x":1300,"z":1482},{"i":"d1","x":1400,"z":1672},{"i":"d1","x":1500,"z":1534},{"i":"d1","x":1600,"z":1343},{"i":"d1","x":1672,"z":1300},{"i":"d1","x":1724,"z":958},{"i":"d1","x":1750,"z":854},{"i":"d1","x":1854,"z":635},{"i":"d1","x":2036,"z":615},{"i":"d1","x":2234,"z":917},{"i":"d1","x":2375,"z":646},{"i":"d1","x":2594,"z":562},{"i":"d1","x":2653,"z":527},{"i":"d1","x":2766,"z":666},{"i":"d1","x":2852,"z":475},{"i":"d1","x":2991,"z":406},{"i":"d1","x":3078,"z":285},{"i":"d1","x":3200,"z":250},{"i":"d1","x":3400,"z":232},{"i":"d1","x":3400,"z":5500},{"i":"d1","x":0,"z":5500},
{"i":"c1","x":0,"z":1900},{"i":"c1","x":75,"z":1940},{"i":"c1","x":179,"z":2037},{"i":"c1","x":239,"z":2020},{"i":"c1","x":422,"z":2193},{"i":"c1","x":509,"z":2106},{"i":"c1","x":700,"z":2141},{"i":"c1","x":873,"z":2217},{"i":"c1","x":995,"z":2280},{"i":"c1","x":1081,"z":2245},{"i":"c1","x":1203,"z":2349},{"i":"c1","x":1272,"z":2072},{"i":"c1","x":1325,"z":2037},{"i":"c1","x":1429,"z":2211},{"i":"c1","x":1515,"z":2193},{"i":"c1","x":1602,"z":1864},{"i":"c1","x":1724,"z":1447},{"i":"c1","x":1812,"z":1031},{"i":"c1","x":1896,"z":958},{"i":"c1","x":2036,"z":1031},{"i":"c1","x":2234,"z":1365},{"i":"c1","x":2313,"z":1104},{"i":"c1","x":2385,"z":1052},{"i":"c1","x":2521,"z":1104},{"i":"c1","x":2609,"z":854},{"i":"c1","x":2766,"z":857},{"i":"c1","x":2852,"z":632},{"i":"c1","x":2913,"z":677},{"i":"c1","x":2991,"z":527},{"i":"c1","x":3061,"z":371},{"i":"c1","x":3087,"z":319},{"i":"c1","x":3139,"z":406},{"i":"c1","x":3200,"z":302},{"i":"c1","x":3287,"z":250},{"i":"c1","x":3400,"z":302},{"i":"c1","x":3400,"z":5500},{"i":"c1","x":0,"z":5500},
{"i":"b1","x":0,"z":2600},{"i":"b1","x":89,"z":2611},{"i":"b1","x":135,"z":2836},{"i":"b1","x":240,"z":2836},{"i":"b1","x":257,"z":2940},{"i":"b1","x":309,"z":2975},{"i":"b1","x":309,"z":3218},{"i":"b1","x":370,"z":3426},{"i":"b1","x":349,"z":3808},{"i":"b1","x":387,"z":3895},{"i":"b1","x":543,"z":3756},{"i":"b1","x":621,"z":3842},{"i":"b1","x":700,"z":3840},{"i":"b1","x":856,"z":3617},{"i":"b1","x":1012,"z":3461},{"i":"b1","x":1081,"z":3530},{"i":"b1","x":1246,"z":3443},{"i":"b1","x":1220,"z":3148},{"i":"b1","x":1298,"z":3072},{"i":"b1","x":1394,"z":3218},{"i":"b1","x":1500,"z":3200},{"i":"b1","x":1568,"z":2923},{"i":"b1","x":1672,"z":2960},{"i":"b1","x":1741,"z":3062},{"i":"b1","x":1889,"z":2871},{"i":"b1","x":2019,"z":2854},{"i":"b1","x":2123,"z":2836},{"i":"b1","x":2141,"z":3096},{"i":"b1","x":2254,"z":3322},{"i":"b1","x":2288,"z":3079},{"i":"b1","x":2384,"z":2923},{"i":"b1","x":2471,"z":2975},{"i":"b1","x":2566,"z":2871},{"i":"b1","x":2523,"z":2576},{"i":"b1","x":2662,"z":2628},{"i":"b1","x":2670,"z":2541},{"i":"b1","x":2557,"z":2507},{"i":"b1","x":2453,"z":2281},{"i":"b1","x":2418,"z":2385},{"i":"b1","x":2349,"z":2385},{"i":"b1","x":2332,"z":2281},{"i":"b1","x":2297,"z":1863},{"i":"b1","x":2375,"z":1759},{"i":"b1","x":2427,"z":1898},{"i":"b1","x":2358,"z":2124},{"i":"b1","x":2401,"z":2141},{"i":"b1","x":2410,"z":2002},{"i":"b1","x":2505,"z":1933},{"i":"b1","x":2505,"z":1759},{"i":"b1","x":2644,"z":1447},{"i":"b1","x":2714,"z":1620},{"i":"b1","x":2827,"z":1464},{"i":"b1","x":2844,"z":1187},{"i":"b1","x":2991,"z":1169},{"i":"b1","x":3069,"z":857},{"i":"b1","x":3087,"z":562},{"i":"b1","x":3139,"z":684},{"i":"b1","x":3200,"z":475},{"i":"b1","x":3278,"z":330},{"i":"b1","x":3365,"z":337},{"i":"b1","x":3400,"z":406},{"i":"b1","x":3400,"z":5500},{"i":"b1","x":0,"z":5500},
{"i":"a1","x":0,"z":4675},{"i":"a1","x":92,"z":4675},{"i":"a1","x":153,"z":4502},{"i":"a1","x":283,"z":4467},{"i":"a1","x":326,"z":4276},{"i":"a1","x":361,"z":4078},{"i":"a1","x":474,"z":4172},{"i":"a1","x":621,"z":4068},{"i":"a1","x":856,"z":3981},{"i":"a1","x":995,"z":3964},{"i":"a1","x":1081,"z":3860},{"i":"a1","x":1134,"z":4068},{"i":"a1","x":1255,"z":3981},{"i":"a1","x":1290,"z":3669},{"i":"a1","x":1255,"z":3548},{"i":"a1","x":1307,"z":3312},{"i":"a1","x":1342,"z":3409},{"i":"a1","x":1498,"z":3495},{"i":"a1","x":1550,"z":3495},{"i":"a1","x":1559,"z":3218},{"i":"a1","x":1585,"z":3086},{"i":"a1","x":1646,"z":3270},{"i":"a1","x":1646,"z":3409},{"i":"a1","x":1759,"z":3391},{"i":"a1","x":1846,"z":3114},{"i":"a1","x":1889,"z":3079},{"i":"a1","x":1898,"z":3391},{"i":"a1","x":1993,"z":3530},{"i":"a1","x":1958,"z":3096},{"i":"a1","x":1984,"z":3096},{"i":"a1","x":2002,"z":3305},{"i":"a1","x":2106,"z":3322},{"i":"a1","x":2193,"z":3773},{"i":"a1","x":2210,"z":4120},{"i":"a1","x":2280,"z":4294},{"i":"a1","x":2384,"z":4380},{"i":"a1","x":2436,"z":4328},{"i":"a1","x":2401,"z":4172},{"i":"a1","x":2445,"z":4103},{"i":"a1","x":2476,"z":4172},{"i":"a1","x":2453,"z":4294},{"i":"a1","x":2505,"z":4450},{"i":"a1","x":2714,"z":4450},{"i":"a1","x":2922,"z":4363},{"i":"a1","x":2925,"z":4190},{"i":"a1","x":2852,"z":4172},{"i":"a1","x":2783,"z":4276},{"i":"a1","x":2618,"z":4242},{"i":"a1","x":2609,"z":4172},{"i":"a1","x":2661,"z":4085},{"i":"a1","x":2887,"z":3877},{"i":"a1","x":2948,"z":3877},{"i":"a1","x":2939,"z":4172},{"i":"a1","x":3052,"z":4085},{"i":"a1","x":3043,"z":3808},{"i":"a1","x":3009,"z":3617},{"i":"a1","x":3078,"z":3461},{"i":"a1","x":3148,"z":3530},{"i":"a1","x":3182,"z":3287},{"i":"a1","x":3200,"z":3200},{"i":"a1","x":3130,"z":3010},{"i":"a1","x":3191,"z":2802},{"i":"a1","x":3260,"z":2663},{"i":"a1","x":3208,"z":2524},{"i":"a1","x":3295,"z":2454},{"i":"a1","x":3269,"z":2228},{"i":"a1","x":3295,"z":2158},{"i":"a1","x":3347,"z":2210},{"i":"a1","x":3365,"z":2106},{"i":"a1","x":3391,"z":1829},{"i":"a1","x":3400,"z":1800},{"i":"a1","x":3400,"z":5500},{"i":"a1","x":0,"z":5500},
{"i":"d2","x":5,"z":406},{"i":"d2","x":100,"z":354},{"i":"d2","x":300,"z":337},{"i":"d2","x":526,"z":274},{"i":"d2","x":821,"z":250},{"i":"d2","x":1246,"z":225},{"i":"d2","x":1272,"z":285},{"i":"d2","x":1220,"z":545},{"i":"d2","x":1168,"z":580},{"i":"d2","x":821,"z":586},{"i":"d2","x":526,"z":607},{"i":"d2","x":127,"z":580},{"i":"d2","x":31,"z":545},
{"i":"c2","x":474,"z":493},{"i":"c2","x":526,"z":295},{"i":"c2","x":821,"z":295},{"i":"c2","x":1168,"z":274},{"i":"c2","x":1241,"z":274},{"i":"c2","x":1194,"z":475},{"i":"c2","x":821,"z":490},{"i":"c2","x":647,"z":527},{"i":"c2","x":526,"z":527},
{"i":"f2","x":31,"z":684},{"i":"f2","x":214,"z":770},{"i":"f2","x":474,"z":770},{"i":"f2","x":821,"z":753},{"i":"f2","x":1194,"z":753},{"i":"f2","x":1246,"z":656},{"i":"f2","x":1264,"z":718},{"i":"f2","x":1229,"z":857},{"i":"f2","x":1168,"z":989},{"i":"f2","x":1064,"z":892},{"i":"f2","x":856,"z":1013},{"i":"f2","x":543,"z":1031},{"i":"f2","x":404,"z":1076},{"i":"f2","x":214,"z":1013},{"i":"f2","x":31,"z":857},
{"i":"n1","x":92,"z":458},{"i":"n1","x":144,"z":545},{"i":"n1","x":526,"z":562},{"i":"n1","x":1168,"z":545},{"i":"n1","x":1220,"z":440},{"i":"n1","x":1250,"z":270},{"i":"n1","x":474,"z":371},{"i":"n1","x":161,"z":389},{"i":"n1","x":92,"z":458},
{"i":"n2","x":5,"z":260},{"i":"n2","x":300,"z":250},{"i":"n2","x":600,"z":225},{"i":"n2","x":900,"z":215},{"i":"n2","x":1230,"z":205},{"i":"n2","x":1310,"z":285},{"i":"n2","x":1290,"z":470},{"i":"n2","x":1240,"z":600},{"i":"n2","x":1190,"z":640},{"i":"n2","x":821,"z":650},{"i":"n2","x":526,"z":650},{"i":"n2","x":127,"z":620},{"i":"n2","x":31,"z":600},
{"i":"n3","x":5,"z":320},{"i":"n3","x":300,"z":290},{"i":"n3","x":600,"z":250},{"i":"n3","x":900,"z":240},{"i":"n3","x":1230,"z":230},{"i":"n3","x":1285,"z":265},{"i":"n3","x":1270,"z":400},{"i":"n3","x":1210,"z":575},{"i":"n3","x":1180,"z":600},{"i":"n3","x":821,"z":610},{"i":"n3","x":526,"z":615},{"i":"n3","x":127,"z":595},{"i":"n3","x":31,"z":570},
{"i":"n4","x":40,"z":979},{"i":"n4","x":179,"z":1117},{"i":"n4","x":474,"z":1187},{"i":"n4","x":821,"z":1169},{"i":"n4","x":1030,"z":1152},{"i":"n4","x":1186,"z":1204},{"i":"n4","x":1307,"z":979},{"i":"n4","x":1385,"z":1308},{"i":"n4","x":1446,"z":1371},{"i":"n4","x":1568,"z":1152},{"i":"n4","x":1646,"z":875},{"i":"n4","x":1672,"z":441},{"i":"n4","x":1741,"z":482},{"i":"n4","x":1846,"z":389},{"i":"n4","x":2019,"z":423},{"i":"n4","x":2245,"z":527},{"i":"n4","x":2505,"z":510},{"i":"n4","x":2627,"z":441},{"i":"n4","x":2783,"z":538},{"i":"n4","x":2887,"z":441},{"i":"n4","x":3061,"z":285},{"i":"n4","x":3234,"z":215},{"i":"n4","x":3400,"z":198},
{"i":"n5","x":40,"z":1117},{"i":"n5","x":196,"z":1273},{"i":"n5","x":474,"z":1378},{"i":"n5","x":856,"z":1447},{"i":"n5","x":1030,"z":1482},{"i":"n5","x":1151,"z":1447},{"i":"n5","x":1203,"z":1568},{"i":"n5","x":1246,"z":1482},{"i":"n5","x":1203,"z":1343},{"i":"n5","x":1290,"z":1130},{"i":"n5","x":1370,"z":1410},{"i":"n5","x":1446,"z":1500},{"i":"n5","x":1540,"z":1300},{"i":"n5","x":1620,"z":1040},{"i":"n5","x":1672,"z":892},{"i":"n5","x":1741,"z":666},{"i":"n5","x":1898,"z":458},{"i":"n5","x":2106,"z":562},{"i":"n5","x":2193,"z":684},{"i":"n5","x":2245,"z":684},{"i":"n5","x":2375,"z":649},{"i":"n5","x":2453,"z":666},{"i":"n5","x":2644,"z":562},{"i":"n5","x":2766,"z":666},{"i":"n5","x":2852,"z":510},{"i":"n5","x":2922,"z":510},{"i":"n5","x":3061,"z":354},{"i":"n5","x":3234,"z":267},{"i":"n5","x":3400,"z":250},
{"i":"n6","x":1316,"z":440},{"i":"n6","x":1350,"z":620},{"i":"n6","x":1400,"z":750},{"i":"n6","x":1420,"z":1000},{"i":"n6","x":1450,"z":1150},{"i":"n6","x":1470,"z":1000},{"i":"n6","x":1560,"z":520},{"i":"n6","x":1520,"z":290},{"i":"n6","x":1400,"z":220},{"i":"n6","x":1316,"z":440},
{"i":"n7","x":75,"z":1568},{"i":"n7","x":144,"z":1725},{"i":"n7","x":387,"z":1863},{"i":"n7","x":647,"z":1829},{"i":"n7","x":890,"z":1950},{"i":"n7","x":994,"z":1950},{"i":"n7","x":1099,"z":2002},{"i":"n7","x":1203,"z":1985},{"i":"n7","x":1229,"z":1776},{"i":"n7","x":1342,"z":1690},{"i":"n7","x":1411,"z":1933},{"i":"n7","x":1481,"z":1915},{"i":"n7","x":1568,"z":1725},{"i":"n7","x":1724,"z":1167},{"i":"n7","x":1812,"z":823},{"i":"n7","x":1896,"z":719},{"i":"n7","x":1984,"z":802},{"i":"n7","x":2052,"z":750},{"i":"n7","x":2115,"z":792},{"i":"n7","x":2234,"z":1125},{"i":"n7","x":2385,"z":844},{"i":"n7","x":2490,"z":896},{"i":"n7","x":2609,"z":615},{"i":"n7","x":2766,"z":753},{"i":"n7","x":2852,"z":552},{"i":"n7","x":2991,"z":458},{"i":"n7","x":3061,"z":337},{"i":"n7","x":3234,"z":267},{"i":"n7","x":3400,"z":265},
{"i":"n8","x":75,"z":2134},{"i":"n8","x":179,"z":2245},{"i":"n8","x":318,"z":2290},{"i":"n8","x":387,"z":2437},{"i":"n8","x":526,"z":2420},{"i":"n8","x":552,"z":2559},{"i":"n8","x":561,"z":2437},{"i":"n8","x":613,"z":2420},{"i":"n8","x":804,"z":2472},{"i":"n8","x":856,"z":2628},{"i":"n8","x":856,"z":2767},{"i":"n8","x":899,"z":2802},{"i":"n8","x":899,"z":3027},{"i":"n8","x":995,"z":3010},{"i":"n8","x":1055,"z":2923},{"i":"n8","x":1151,"z":3010},{"i":"n8","x":1255,"z":2940},{"i":"n8","x":1290,"z":2732},{"i":"n8","x":1359,"z":2732},{"i":"n8","x":1420,"z":2923},{"i":"n8","x":1489,"z":2628},{"i":"n8","x":1559,"z":2454},{"i":"n8","x":1568,"z":2245},{"i":"n8","x":1585,"z":2176},{"i":"n8","x":1724,"z":1672},{"i":"n8","x":1812,"z":1521},{"i":"n8","x":1786,"z":1344},{"i":"n8","x":1828,"z":1188},{"i":"n8","x":1969,"z":1146},{"i":"n8","x":2036,"z":1260},{"i":"n8","x":2125,"z":1375},{"i":"n8","x":2234,"z":1698},{"i":"n8","x":2313,"z":1292},{"i":"n8","x":2490,"z":1312},{"i":"n8","x":2542,"z":1167},{"i":"n8","x":2609,"z":958},{"i":"n8","x":2714,"z":1048},{"i":"n8","x":2783,"z":1048},{"i":"n8","x":2852,"z":753},{"i":"n8","x":2922,"z":857},{"i":"n8","x":2991,"z":684},{"i":"n8","x":3060,"z":620},{"i":"n8","x":3090,"z":430},{"i":"n8","x":3140,"z":540},{"i":"n8","x":3200,"z":380},{"i":"n8","x":3290,"z":290},{"i":"n8","x":3400,"z":330}],
"s2":[{"i":"b2","x":1689,"z":2559},{"i":"b2","x":1720,"z":2385},{"i":"b2","x":1776,"z":1933},{"i":"b2","x":1880,"z":1725},{"i":"b2","x":2019,"z":1673},{"i":"b2","x":2063,"z":1829},{"i":"b2","x":2089,"z":2037},{"i":"b2","x":2123,"z":2280},{"i":"b2","x":2141,"z":2420},{"i":"b2","x":2046,"z":2420},{"i":"b2","x":2002,"z":2524},{"i":"b2","x":1985,"z":2871},{"i":"b2","x":1707,"z":2888},{"i":"b2","x":1689,"z":2700},
{"i":"h1","x":1837,"z":150},{"i":"h1","x":2000,"z":76},{"i":"h1","x":2175,"z":150},{"i":"h1","x":2000,"z":220},
{"i":"h2","x":2280,"z":180},{"i":"h2","x":2320,"z":135},{"i":"h2","x":2600,"z":135},{"i":"h2","x":2950,"z":59},{"i":"h2","x":3030,"z":110},{"i":"h2","x":2950,"z":135},{"i":"h2","x":2600,"z":198},{"i":"h2","x":2320,"z":225},
{"i":"f3","x":1229,"z":120},{"i":"f3","x":1300,"z":40},{"i":"f3","x":1385,"z":120},{"i":"f3","x":1300,"z":215},
{"i":"g2","x":1272,"z":120},{"i":"g2","x":1307,"z":76},{"i":"g2","x":1342,"z":120},{"i":"g2","x":1307,"z":163},
{"i":"c3","x":1377,"z":360},{"i":"c3","x":1430,"z":250},{"i":"c3","x":1481,"z":340},{"i":"c3","x":1425,"z":475},
{"i":"d3","x":1397,"z":350},{"i":"d3","x":1425,"z":274},{"i":"d3","x":1450,"z":340},{"i":"d3","x":1425,"z":434},
{"i":"f4","x":1394,"z":760},{"i":"f4","x":1425,"z":666},{"i":"f4","x":1455,"z":760},{"i":"f4","x":1425,"z":850},
{"i":"f5","x":1490,"z":600},{"i":"f5","x":1525,"z":552},{"i":"f5","x":1533,"z":590},{"i":"f5","x":1500,"z":642},
{"i":"f6","x":1560,"z":40},{"i":"f6","x":1900,"z":0},{"i":"f6","x":2200,"z":0},{"i":"f6","x":1900,"z":55},
{"i":"f7","x":2210,"z":40},{"i":"f7","x":2500,"z":0},{"i":"f7","x":2800,"z":30},{"i":"f7","x":2500,"z":70},
{"i":"a2","x":90,"z":3478},{"i":"a2","x":135,"z":3810},{"i":"a2","x":135,"z":4120},{"i":"a2","x":90,"z":4130},
{"i":"b3","x":440,"z":3550},{"i":"b3","x":480,"z":3398},{"i":"b3","x":522,"z":3550},{"i":"b3","x":480,"z":3710},
{"i":"c4","x":722,"z":2880},{"i":"c4","x":741,"z":2820},{"i":"c4","x":760,"z":2880},{"i":"c4","x":741,"z":2940},
{"i":"d4","x":917,"z":2790},{"i":"d4","x":945,"z":2760},{"i":"d4","x":978,"z":2800},{"i":"d4","x":960,"z":2843},
{"i":"c5","x":1229,"z":2600},{"i":"c5","x":1260,"z":2490},{"i":"c5","x":1316,"z":2600},{"i":"c5","x":1260,"z":2715},
{"i":"d5","x":1094,"z":2300},{"i":"d5","x":1170,"z":2250},{"i":"d5","x":1255,"z":2290},{"i":"d5","x":1170,"z":2370},
{"i":"c6","x":1120,"z":2687},{"i":"c6","x":1130,"z":2662},{"i":"c6","x":1140,"z":2687},{"i":"c6","x":1130,"z":2712},
{"i":"c7","x":1446,"z":3030},{"i":"c7","x":1465,"z":2958},{"i":"c7","x":1484,"z":3030},{"i":"c7","x":1465,"z":3100},
{"i":"b4","x":1637,"z":2790},{"i":"b4","x":1650,"z":2732},{"i":"b4","x":1663,"z":2790},{"i":"b4","x":1650,"z":2854},
{"i":"c8","x":1500,"z":3416},{"i":"c8","x":1515,"z":3386},{"i":"c8","x":1530,"z":3416},{"i":"c8","x":1515,"z":3446},
{"i":"c9","x":222,"z":3010},{"i":"c9","x":243,"z":2957},{"i":"c9","x":264,"z":3010},{"i":"c9","x":243,"z":3062},
{"i":"d6","x":1310,"z":2265},{"i":"d6","x":1321,"z":2210},{"i":"d6","x":1333,"z":2265},{"i":"d6","x":1321,"z":2320},
{"i":"b5","x":1837,"z":2586},{"i":"b5","x":1852,"z":2552},{"i":"b5","x":1868,"z":2586},{"i":"b5","x":1852,"z":2621},
{"i":"b6","x":2018,"z":2635},{"i":"b6","x":2028,"z":2610},{"i":"b6","x":2038,"z":2635},{"i":"b6","x":2028,"z":2660},
{"i":"b7","x":2288,"z":2560},{"i":"b7","x":2325,"z":2507},{"i":"b7","x":2366,"z":2600},{"i":"b7","x":2325,"z":2628},
{"i":"a3","x":2353,"z":3749},{"i":"a3","x":2378,"z":3709},{"i":"a3","x":2403,"z":3749},{"i":"a3","x":2378,"z":3789},
{"i":"a4","x":2484,"z":3784},{"i":"a4","x":2509,"z":3749},{"i":"a4","x":2534,"z":3784},{"i":"a4","x":2509,"z":3819},
{"i":"a5","x":2296,"z":3912},{"i":"a5","x":2314,"z":3872},{"i":"a5","x":2332,"z":3912},{"i":"a5","x":2314,"z":3952},
{"i":"b8","x":3055,"z":3662},{"i":"b8","x":3069,"z":3607},{"i":"b8","x":3083,"z":3662},{"i":"b8","x":3069,"z":3717},
{"i":"c10","x":2887,"z":1400},{"i":"c10","x":2912,"z":1256},{"i":"c10","x":2918,"z":1380},{"i":"c10","x":2895,"z":1464},
{"i":"c11","x":2714,"z":1760},{"i":"c11","x":2750,"z":1760},{"i":"c11","x":2783,"z":1840},{"i":"c11","x":2760,"z":1898}],
"k2":[{"x":0,"z":100},{"x":20,"z":850},{"x":45,"z":1500},{"x":75,"z":2300},{"x":85,"z":3500},{"x":92,"z":5057},{"x":135,"z":5230},{"x":187,"z":5352},{"x":239,"z":5168},{"x":300,"z":5248},{"x":356,"z":4814},{"x":408,"z":4668},{"x":479,"z":4797},{"x":543,"z":4700},{"x":674,"z":4589},{"x":743,"z":4613},{"x":856,"z":4318},{"x":908,"z":4328},{"x":965,"z":4443},{"x":1021,"z":4346},{"x":1073,"z":4335},{"x":1130,"z":4155},{"x":1203,"z":4148},{"x":1299,"z":4033},{"x":1351,"z":3808},{"x":1463,"z":3582},{"x":1521,"z":3738},{"x":1628,"z":3426},{"x":1689,"z":3461},{"x":1745,"z":3166},{"x":1797,"z":3981},{"x":1854,"z":3617},{"x":2045,"z":3981},{"x":2175,"z":4137},{"x":2236,"z":4398},{"x":2311,"z":4613},{"x":2375,"z":4512},{"x":2575,"z":4543},{"x":2783,"z":4484},{"x":2965,"z":4311},{"x":3043,"z":4120},{"x":3243,"z":3287},{"x":3295,"z":2316},{"x":3352,"z":2871},{"x":3400,"z":2628},{"x":3400,"z":5500},{"x":0,"z":5500}],
"u2":[{"x":95,"z":3877},{"x":127,"z":3756},{"x":214,"z":3745},{"x":283,"z":3686},{"x":344,"z":3548},{"x":422,"z":3558},{"x":526,"z":3478},{"x":682,"z":3513},{"x":856,"z":3384},{"x":1012,"z":3315},{"x":1134,"z":3409},{"x":1186,"z":3357},{"x":1246,"z":3374},{"x":1290,"z":3155},{"x":1342,"z":3124},{"x":1411,"z":3246},{"x":1472,"z":3176},{"x":1524,"z":3200},{"x":1576,"z":2906},{"x":1646,"z":2888},{"x":1689,"z":2801},{"x":1724,"z":2454},{"x":1741,"z":2350},{"x":1846,"z":2072},{"x":1898,"z":2044},{"x":2036,"z":2100},{"x":2141,"z":2281},{"x":2236,"z":2507},{"x":2280,"z":2384},{"x":2366,"z":2183},{"x":2505,"z":2124},{"x":2644,"z":1846},{"x":2731,"z":1950},{"x":2852,"z":1725},{"x":2957,"z":1707},{"x":3078,"z":1169},{"x":3148,"z":1152},{"x":3200,"z":944},{"x":3295,"z":684},{"x":3365,"z":649},{"x":3400,"z":510}],
"v2":[{"x":5,"l":"147"},{"x":52},{"x":99,"l":"142"},{"x":151},{"x":203},{"x":250,"l":"139"},{"x":302},{"x":354,"l":"137"},{"x":411},{"x":474,"l":"135"},{"x":542,"l":"134"},{"x":615},{"x":682,"l":"132"},{"x":740},{"x":797,"l":"130"},{"x":859},{"x":917,"l":"128"},{"x":974},{"x":1026,"l":"126"},{"x":1083},{"x":1135,"l":"124"},{"x":1193},{"x":1250,"l":"122"},{"x":1307},{"x":1359,"l":"120"},{"x":1417},{"x":1469,"l":"118"},{"x":1521},{"x":1573,"l":"116"},{"x":1630},{"x":1687,"l":"114"},{"x":1745},{"x":1802,"l":"112"},{"x":1854},{"x":1906,"l":"110"},{"x":1979,"l":"109"},{"x":2042},{"x":2109,"l":"107"},{"x":2172},{"x":2234,"l":"105"},{"x":2307,"l":"104"},{"x":2375},{"x":2448,"l":"102"},{"x":2505},{"x":2568,"l":"99"},{"x":2646,"l":"98"},{"x":2708},{"x":2776,"l":"96"},{"x":2844},{"x":2911,"l":"94"},{"x":2969},{"x":3026,"l":"92"},{"x":3083},{"x":3135,"l":"90"},{"x":3193},{"x":3245,"l":"88"},{"x":3302},{"x":3354,"l":"85"},{"x":3396}],
"t2":[{"t":"SAF","x":1516,"z":-552},{"t":"PF","x":1802,"z":-552},{"t":"Southeast Indian Ridge","x":1724,"z":4802}],
"w2":[{"t":"100","b":"e","x":672,"z":1031},{"t":"40","b":"e","x":589,"z":1656},{"t":"20","b":"d","x":786,"z":2177},{"t":"5","b":"b","x":568,"z":4104}],
"l2":[{"x":21},{"x":132},{"x":243},{"x":354,"l":"38"},{"x":466},{"x":578},{"x":690},{"x":802,"l":"42"},{"x":914},{"x":1024},{"x":1135},{"x":1245,"l":"46"},{"x":1356},{"x":1467},{"x":1577},{"x":1688,"l":"50"},{"x":1800},{"x":1912},{"x":2023},{"x":2135,"l":"54"},{"x":2246},{"x":2357},{"x":2467},{"x":2578,"l":"58"},{"x":2690},{"x":2800},{"x":2910},{"x":3021,"l":"62"},{"x":3132},{"x":3242},{"x":3352}],
"cb":[{"a":0,"e":5,"b":"a"},{"a":5,"e":10,"b":"b"},{"a":10,"e":15,"b":"c"},{"a":15,"e":20,"b":"c"},{"a":20,"e":30,"b":"d"},{"a":30,"e":40,"b":"d"},{"a":40,"e":60,"b":"e"},{"a":60,"e":80,"b":"e"},{"a":80,"e":100,"b":"e"},{"a":100,"e":150,"b":"f"},{"a":150,"e":200,"b":"g"},{"a":200,"e":300,"b":"h"},{"a":300,"e":400,"b":"h"}]
},
"hconcat":[{"bounds":"flush","spacing":0,"vconcat":[
{"width":749,"height":528,"resolve":{"axis":{"x":"independent","y":"independent"}},
"encoding":{"x":{"field":"x","type":"quantitative","scale":{"domain":[0,3900],"nice":false},"axis":null},"y":{"field":"z","type":"quantitative","scale":{"domain":[5500,0],"nice":false},"axis":null}},
"layer":[
{"data":{"name":"m1"},"transform":[{"calculate":"slice(datum.i,0,1)","as":"b"}],"mark":{"type":"line","interpolate":"catmull-rom","stroke":"black","strokeWidth":1.3,"clip":true},"encoding":{"x":{"field":"x","type":"quantitative","scale":{"domain":[0,3900],"nice":false},"axis":{"values":[0,500,1000,1500,2000,2500,3000,3500],"title":"distance [km]","format":"d","tickSize":7,"labelPadding":11,"titlePadding":6}},"y":{"field":"z","type":"quantitative","scale":{"domain":[5500,0],"nice":false},"axis":{"values":[0,1000,2000,3000,4000,5000],"title":"depth [m]","format":"d","tickSize":7,"labelPadding":7,"titlePadding":15}},"detail":{"field":"i"},"order":{"value":null},"fill":{"field":"b","type":"nominal","legend":null,"scale":{"domain":["a","b","c","d","e","f","g","h","n"],"range":["#ff0d0d","#ff4d4d","#ff9999","#ffcccc","#ffffcc","#ccffcc","#80ff80","#33ff33","transparent"]}}}},
{"data":{"name":"s1"},"transform":[{"calculate":"slice(datum.i,0,1)","as":"b"}],"mark":{"type":"line","interpolate":"cardinal-closed","stroke":"black","strokeWidth":1.3,"clip":true},"encoding":{"x":{"field":"x","type":"quantitative","scale":{"domain":[0,3900],"nice":false},"axis":{"orient":"top","values":[0,500,1000,1500,2000,2500,3000,3500],"labels":false,"title":null,"tickSize":7}},"y":{"field":"z","type":"quantitative","scale":{"domain":[5500,0],"nice":false},"axis":{"orient":"right","values":[0,1000,2000,3000,4000,5000],"labels":false,"title":null,"tickSize":-7}},"detail":{"field":"i"},"order":{"value":null},"fill":{"field":"b","type":"nominal","legend":null,"scale":{"domain":["a","b","c","d","e","f","g","h","n"],"range":["#ff0d0d","#ff4d4d","#ff9999","#ffcccc","#ffffcc","#ccffcc","#80ff80","#33ff33","transparent"]}}}},
{"data":{"name":"u1"},"mark":{"type":"line","interpolate":"catmull-rom","stroke":"#0000ff","strokeWidth":4.5,"clip":true},"encoding":{"detail":{"field":"s"},"order":{"value":null}}},
{"data":{"name":"k1"},"mark":{"type":"line","fill":"white","stroke":"black","strokeWidth":2,"clip":true},"encoding":{"order":{"value":null}}},
{"data":{"name":"v1"},"transform":[{"calculate":"38","as":"z"}],"mark":{"type":"point","shape":"triangle-down","filled":true,"color":"black","size":70,"opacity":1},"encoding":{}},
{"data":{"name":"v1"},"transform":[{"filter":"isValid(datum.l)"},{"calculate":"-85","as":"z"}],"mark":{"type":"text","angle":270,"align":"left","baseline":"middle","fontSize":18},"encoding":{"text":{"field":"l"}}},
{"data":{"name":"t1"},"mark":{"type":"text","fontSize":26.5,"baseline":"middle"},"encoding":{"text":{"field":"t"}}},
{"data":{"values":[{"t":"Kerguelen Plateau","x":3495,"z":3354}]},"mark":{"type":"text","fontSize":27,"baseline":"middle","angle":270},"encoding":{"text":{"field":"t"}}},
{"data":{"values":[{"t":"I8S","x":3599,"z":5281}]},"mark":{"type":"text","fontSize":36,"fontWeight":"bold","baseline":"middle"},"encoding":{"text":{"field":"t"}}},
{"data":{"name":"w1"},"mark":{"type":"text","fontSize":26,"baseline":"middle","angle":6,"strokeWidth":5},"encoding":{"text":{"field":"t"},"stroke":{"field":"b","type":"nominal","legend":null,"scale":{"domain":["a","b","c","d","e","f","g","h","n"],"range":["#ff0d0d","#ff4d4d","#ff9999","#ffcccc","#ffffcc","#ccffcc","#80ff80","#33ff33","transparent"]}}}},
{"data":{"name":"w1"},"mark":{"type":"text","fontSize":26,"baseline":"middle","angle":6,"color":"black"},"encoding":{"text":{"field":"t"}}}
]},
{"width":749,"height":85,"data":{"values":[]},"mark":"point","encoding":{}},
{"width":749,"height":31,"encoding":{"x":{"field":"x","type":"quantitative","scale":{"domain":[0,3900],"nice":false},"axis":null}},
"layer":[
{"data":{"values":[{"x":0,"e":3900}]},"mark":{"type":"rule","color":"black","strokeWidth":3},"encoding":{"x2":{"field":"e"},"y":{"datum":0.5,"type":"quantitative","scale":{"domain":[0,1]},"axis":null}}},
{"data":{"name":"l1"},"transform":[{"filter":"!isValid(datum.l)"}],"mark":{"type":"rule","color":"black","strokeWidth":1},"encoding":{"y":{"datum":0.29,"type":"quantitative","scale":{"domain":[0,1]},"axis":null},"y2":{"datum":0.71}}},
{"data":{"name":"l1"},"transform":[{"filter":"isValid(datum.l)"}],"mark":{"type":"rule","color":"black","strokeWidth":2.5},"encoding":{"y":{"datum":0,"type":"quantitative","scale":{"domain":[0,1]},"axis":null},"y2":{"datum":1}}},
{"data":{"name":"l1"},"transform":[{"filter":"isValid(datum.l)"}],"mark":{"type":"text","fontSize":27,"align":"right","dx":-1,"baseline":"middle"},"encoding":{"y":{"datum":-0.65,"type":"quantitative","scale":{"domain":[0,1]},"axis":null},"text":{"field":"l"}}},
{"data":{"name":"l1"},"transform":[{"filter":"isValid(datum.l)"},{"calculate":"'O'","as":"o"}],"mark":{"type":"text","fontSize":18,"align":"left","dx":-1,"dy":-10,"baseline":"middle"},"encoding":{"y":{"datum":-0.65,"type":"quantitative","scale":{"domain":[0,1]},"axis":null},"text":{"field":"o"}}},
{"data":{"name":"l1"},"transform":[{"filter":"isValid(datum.l)"},{"calculate":"'S'","as":"o"}],"mark":{"type":"text","fontSize":27,"align":"left","dx":13,"baseline":"middle"},"encoding":{"y":{"datum":-0.65,"type":"quantitative","scale":{"domain":[0,1]},"axis":null},"text":{"field":"o"}}}
]},
{"width":749,"height":124,"data":{"values":[]},"mark":"point","encoding":{}},
{"bounds":"flush","spacing":0,"hconcat":[{"width":75,"height":528,"data":{"values":[]},"mark":"point","encoding":{}},
{"width":653,"height":528,"resolve":{"axis":{"x":"independent","y":"independent"}},
"encoding":{"x":{"field":"x","type":"quantitative","scale":{"domain":[0,3400],"nice":false},"axis":null},"y":{"field":"z","type":"quantitative","scale":{"domain":[5500,0],"nice":false},"axis":null}},
"layer":[
{"data":{"name":"m2"},"transform":[{"calculate":"slice(datum.i,0,1)","as":"b"}],"mark":{"type":"line","interpolate":"catmull-rom","stroke":"black","strokeWidth":1.3,"clip":true},"encoding":{"x":{"field":"x","type":"quantitative","scale":{"domain":[0,3400],"nice":false},"axis":{"values":[0,500,1000,1500,2000,2500,3000],"title":"distance [km]","format":"d","tickSize":7,"labelPadding":11,"titlePadding":6}},"y":{"field":"z","type":"quantitative","scale":{"domain":[5500,0],"nice":false},"axis":{"values":[0,1000,2000,3000,4000,5000],"title":"depth [m]","format":"d","tickSize":7,"labelPadding":7,"titlePadding":15}},"detail":{"field":"i"},"order":{"value":null},"fill":{"field":"b","type":"nominal","legend":null,"scale":{"domain":["a","b","c","d","e","f","g","h","n"],"range":["#ff0d0d","#ff4d4d","#ff9999","#ffcccc","#ffffcc","#ccffcc","#80ff80","#33ff33","transparent"]}}}},
{"data":{"name":"s2"},"transform":[{"calculate":"slice(datum.i,0,1)","as":"b"}],"mark":{"type":"line","interpolate":"cardinal-closed","stroke":"black","strokeWidth":1.3,"clip":true},"encoding":{"x":{"field":"x","type":"quantitative","scale":{"domain":[0,3400],"nice":false},"axis":{"orient":"top","values":[0,500,1000,1500,2000,2500,3000],"labels":false,"title":null,"tickSize":7}},"y":{"field":"z","type":"quantitative","scale":{"domain":[5500,0],"nice":false},"axis":{"orient":"right","values":[0,1000,2000,3000,4000,5000],"labels":false,"title":null,"tickSize":-7}},"detail":{"field":"i"},"order":{"value":null},"fill":{"field":"b","type":"nominal","legend":null,"scale":{"domain":["a","b","c","d","e","f","g","h","n"],"range":["#ff0d0d","#ff4d4d","#ff9999","#ffcccc","#ffffcc","#ccffcc","#80ff80","#33ff33","transparent"]}}}},
{"data":{"name":"u2"},"mark":{"type":"line","interpolate":"catmull-rom","stroke":"#0000ff","strokeWidth":4.5,"clip":true},"encoding":{"order":{"value":null}}},
{"data":{"name":"k2"},"mark":{"type":"line","fill":"white","stroke":"black","strokeWidth":2,"clip":true},"encoding":{"order":{"value":null}}},
{"data":{"name":"v2"},"transform":[{"calculate":"38","as":"z"}],"mark":{"type":"point","shape":"triangle-down","filled":true,"color":"black","size":70,"opacity":1},"encoding":{}},
{"data":{"name":"v2"},"transform":[{"filter":"isValid(datum.l)"},{"calculate":"-85","as":"z"}],"mark":{"type":"text","angle":270,"align":"left","baseline":"middle","fontSize":18},"encoding":{"text":{"field":"l"}}},
{"data":{"name":"t2"},"mark":{"type":"text","fontSize":26.5,"baseline":"middle"},"encoding":{"text":{"field":"t"}}},
{"data":{"values":[{"t":"Adelie Coast","x":3302,"z":3698}]},"mark":{"type":"text","fontSize":27,"baseline":"middle","angle":270},"encoding":{"text":{"field":"t"}}},
{"data":{"values":[{"t":"I9S","x":3094,"z":5271}]},"mark":{"type":"text","fontSize":36,"fontWeight":"bold","baseline":"middle"},"encoding":{"text":{"field":"t"}}},
{"data":{"name":"w2"},"mark":{"type":"text","fontSize":26,"baseline":"middle","angle":8,"strokeWidth":5},"encoding":{"text":{"field":"t"},"stroke":{"field":"b","type":"nominal","legend":null,"scale":{"domain":["a","b","c","d","e","f","g","h","n"],"range":["#ff0d0d","#ff4d4d","#ff9999","#ffcccc","#ffffcc","#ccffcc","#80ff80","#33ff33","transparent"]}}}},
{"data":{"name":"w2"},"mark":{"type":"text","fontSize":26,"baseline":"middle","angle":8,"color":"black"},"encoding":{"text":{"field":"t"}}},
{"data":{"values":[{"t":"10","x":792,"z":3719}]},"mark":{"type":"text","fontSize":26,"baseline":"middle","angle":325,"stroke":"#ff9999","strokeWidth":5},"encoding":{"text":{"field":"t"}}},
{"data":{"values":[{"t":"10","x":792,"z":3719}]},"mark":{"type":"text","fontSize":26,"baseline":"middle","angle":325,"color":"black"},"encoding":{"text":{"field":"t"}}}
]}]},
{"width":749,"height":613,"data":{"values":[]},"mark":"point","encoding":{}},
{"bounds":"flush","spacing":0,"hconcat":[{"width":75,"height":31,"data":{"values":[]},"mark":"point","encoding":{}},
{"width":653,"height":31,"encoding":{"x":{"field":"x","type":"quantitative","scale":{"domain":[0,3400],"nice":false},"axis":null}},
"layer":[
{"data":{"values":[{"x":0,"e":3400}]},"mark":{"type":"rule","color":"black","strokeWidth":3},"encoding":{"x2":{"field":"e"},"y":{"datum":0.5,"type":"quantitative","scale":{"domain":[0,1]},"axis":null}}},
{"data":{"name":"l2"},"transform":[{"filter":"!isValid(datum.l)"}],"mark":{"type":"rule","color":"black","strokeWidth":1},"encoding":{"y":{"datum":0.29,"type":"quantitative","scale":{"domain":[0,1]},"axis":null},"y2":{"datum":0.71}}},
{"data":{"name":"l2"},"transform":[{"filter":"isValid(datum.l)"}],"mark":{"type":"rule","color":"black","strokeWidth":2.5},"encoding":{"y":{"datum":0,"type":"quantitative","scale":{"domain":[0,1]},"axis":null},"y2":{"datum":1}}},
{"data":{"name":"l2"},"transform":[{"filter":"isValid(datum.l)"}],"mark":{"type":"text","fontSize":27,"align":"right","dx":-1,"baseline":"middle"},"encoding":{"y":{"datum":-0.65,"type":"quantitative","scale":{"domain":[0,1]},"axis":null},"text":{"field":"l"}}},
{"data":{"name":"l2"},"transform":[{"filter":"isValid(datum.l)"},{"calculate":"'O'","as":"o"}],"mark":{"type":"text","fontSize":18,"align":"left","dx":-1,"dy":-10,"baseline":"middle"},"encoding":{"y":{"datum":-0.65,"type":"quantitative","scale":{"domain":[0,1]},"axis":null},"text":{"field":"o"}}},
{"data":{"name":"l2"},"transform":[{"filter":"isValid(datum.l)"},{"calculate":"'S'","as":"o"}],"mark":{"type":"text","fontSize":27,"align":"left","dx":13,"baseline":"middle"},"encoding":{"y":{"datum":-0.65,"type":"quantitative","scale":{"domain":[0,1]},"axis":null},"text":{"field":"o"}}}
]}]}
]},
{"width":807,"height":10,"data":{"values":[]},"mark":"point","encoding":{}},
{"bounds":"flush","spacing":0,"vconcat":[{"width":29,"height":211,"data":{"values":[]},"mark":"point","encoding":{}},
{"width":29,"height":960,"data":{"name":"cb"},"mark":{"type":"rect","stroke":"black","strokeWidth":1.5},"encoding":{"x":{"datum":0,"type":"quantitative","scale":{"domain":[0,1]},"axis":null},"x2":{"datum":1},"y":{"field":"a","type":"quantitative","scale":{"domain":[0,5,10,20,40,60,80,100,150,200,300,400],"range":[960,948,936,912,864,816,768,720,600,480,240,0]},"axis":{"orient":"right","values":[5,10,20,40,100,150,200],"format":"d","title":"potential vorticity [−10⁻¹⁴(cm s)⁻¹]","titleFontSize":20,"titlePadding":16,"labelFontSize":21,"labelPadding":7,"ticks":false,"domain":false}},"y2":{"field":"e"},"fill":{"field":"b","type":"nominal","legend":null,"scale":{"domain":["a","b","c","d","e","f","g","h","n"],"range":["#ff0d0d","#ff4d4d","#ff9999","#ffcccc","#ffffcc","#ccffcc","#80ff80","#33ff33","transparent"]}}}}]}
]}
